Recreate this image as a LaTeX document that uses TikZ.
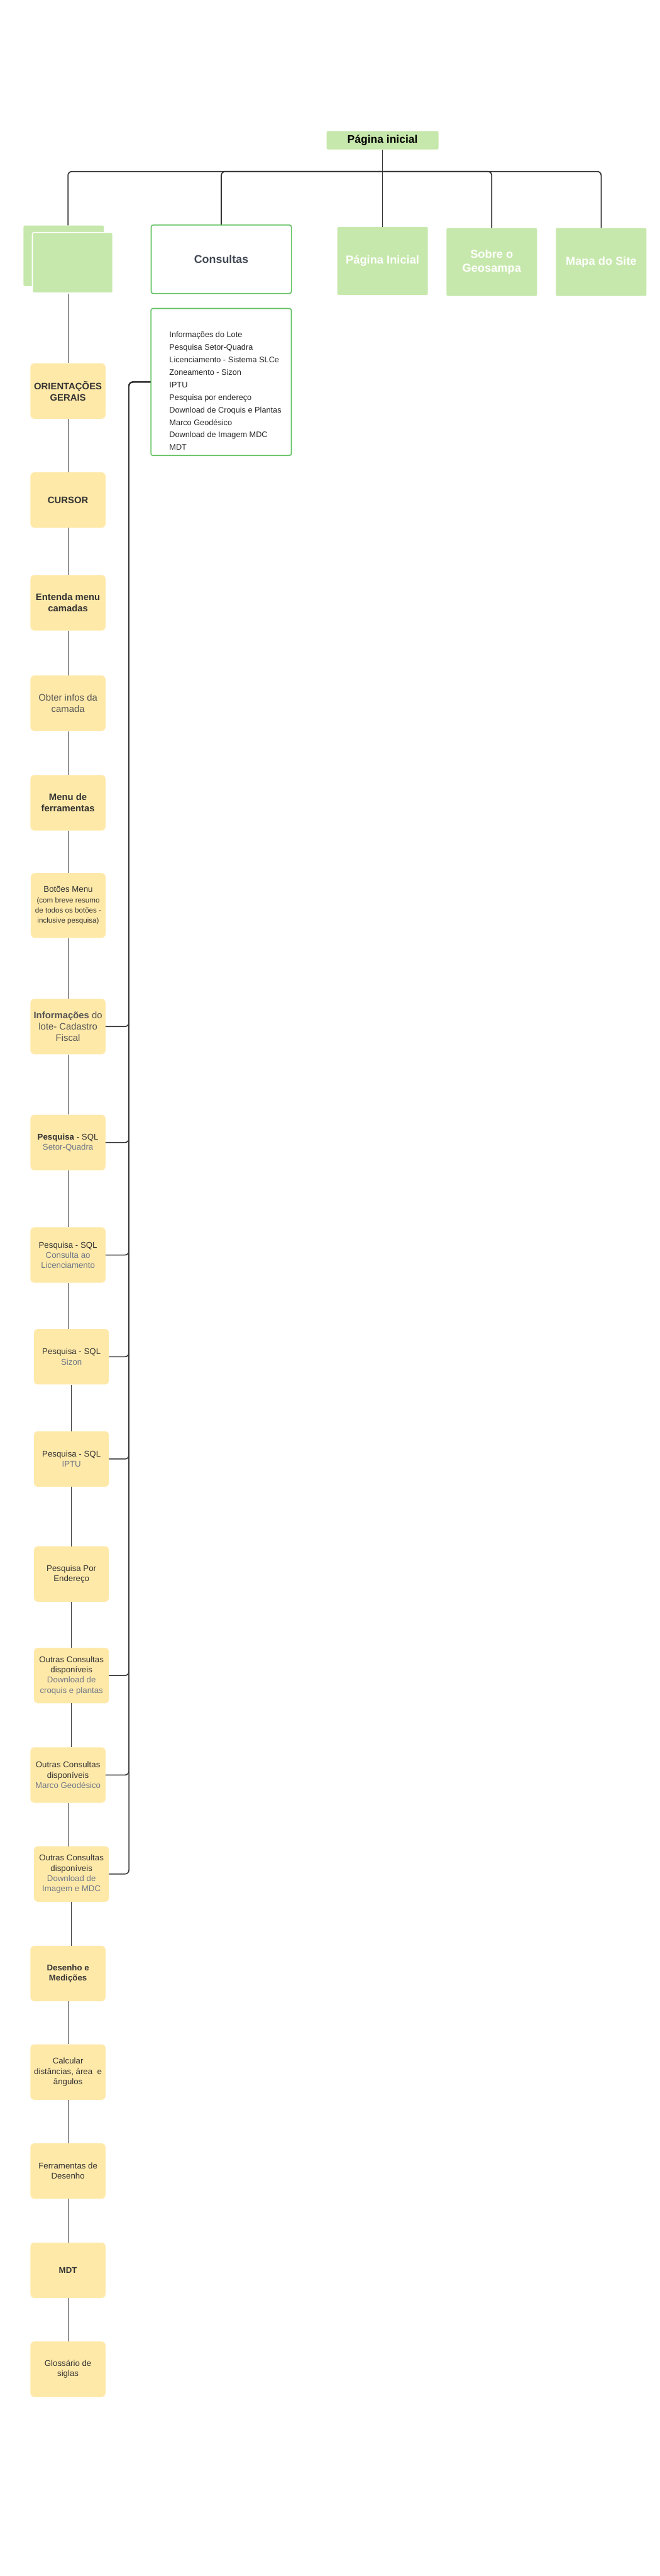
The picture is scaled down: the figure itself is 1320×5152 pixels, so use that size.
\documentclass[tikz,border=0pt]{standalone}
\usepackage{fontspec}
\setmainfont{Liberation Sans}
\definecolor{verdeclaro}{HTML}{C7E8AC}
\definecolor{verdeborda}{HTML}{5EC15E}
\definecolor{amareloclaro}{HTML}{FFE9A9}
\definecolor{linha}{HTML}{333333}
\definecolor{texto}{HTML}{333333}
\definecolor{cinza}{HTML}{555555}
\definecolor{cinzaazul}{HTML}{6F7888}
\definecolor{ardosia}{HTML}{3F4752}
\newcommand{\detalhe}[1]{\textcolor{cinzaazul}{#1}}
\newcommand{\miudo}[1]{{\fontsize{14.6}{18}\selectfont #1}}

\begin{document}
\begin{tikzpicture}[
        x=1pt, y=-1pt,
        raiz/.style={fill=verdeclaro, rounded corners=3pt, minimum width=224pt, minimum height=37pt, font=\bfseries\fontsize{22}{26}\selectfont},
        secao/.style={fill=verdeclaro, rounded corners=3pt, minimum width=181pt, minimum height=136pt, align=center, text=white, font=\bfseries\fontsize{23}{27}\selectfont},
        pilha/.style={fill=verdeclaro, rounded corners=3pt, minimum width=161pt, minimum height=121pt},
        caixa/.style={draw=verdeborda, line width=2pt, fill=white, rounded corners=4pt, minimum width=280.5pt, minimum height=137pt, text=ardosia, font=\bfseries\fontsize{22.5}{27}\selectfont},
        lista/.style={draw=verdeborda, line width=2pt, fill=white, rounded corners=4pt, minimum width=281pt, minimum height=294pt},
        itens/.style={align=left, inner sep=0pt, text=black!85, font=\fontsize{16}{25}\selectfont},
        passo/.style={fill=amareloclaro, rounded corners=7pt, minimum width=150pt, minimum height=111pt, inner sep=2pt, align=center, text=texto, font=\fontsize{16.7}{20.5}\selectfont},
        titulo/.style={font=\bfseries\fontsize{18.7}{22.5}\selectfont},
        grande/.style={font=\fontsize{18.7}{22.5}\selectfont},
        negrito/.style={font=\bfseries\fontsize{16.7}{20.5}\selectfont},
        ramo/.style={draw=linha, line width=2.2pt, rounded corners=8pt},
        liga/.style={draw=linha, line width=1.5pt},
        barramento/.style={draw=linha, line width=2pt, rounded corners=8pt}
    ]
        \path[use as bounding box, fill=white] (0,0) rectangle (1320,5152);

        \node (topo) at (765.5,280.5) [raiz] {Página inicial};

        \node (guiafundo) at (127.4,511.5) [pilha] {};
        \node (guia) at (145.3,525.5) [pilha, draw=white, line width=2pt] {};
        \node (consultas) at (442.8,518.5) [caixa] {Consultas};
        \node (inicial) at (765.5,522) [secao] {Página Inicial};
        \node (sobre) at (984,524) [secao] {Sobre o\\Geosampa};
        \node (mapa) at (1203,524) [secao] {Mapa do Site};

        \node (lista) at (442.5,764) [lista] {};
        \node (itens) at (451,782) [itens] {Informações do Lote\\Pesquisa Setor-Quadra\\Licenciamento - Sistema SLCe\\Zoneamento - Sizon\\IPTU\\Pesquisa por endereço\\Download de Croquis e Plantas\\Marco Geodésico\\Download de Imagem MDC\\MDT};

        \node (orient) at (136,782) [passo, titulo] {ORIENTAÇÕES\\GERAIS};
        \node (cursor) at (136,1000) [passo, titulo] {CURSOR};
        \node (camadas) at (136,1205.5) [passo, titulo] {Entenda menu\\camadas};
        \node (infos) at (136,1406.5) [passo, grande, text=cinza] {Obter infos da\\camada};
        \node (ferramentas) at (136,1605.5) [passo, titulo] {Menu de\\ferramentas};
        \node (botoes) at (136.5,1811) [passo, minimum height=130pt, rounded corners=9pt] {Botões Menu\\\miudo{(com breve resumo}\\\miudo{de todos os botões -}\\\miudo{inclusive pesquisa)}};
        \node (lote) at (136,2053) [passo, grande, text=cinza] {\textbf{Informações} do\\lote- Cadastro\\Fiscal};
        \node (setor) at (136,2285) [passo] {\textbf{Pesquisa} - SQL\\\detalhe{Setor-Quadra}};
        \node (licenc) at (136,2510) [passo] {Pesquisa - SQL\\\detalhe{Consulta ao}\\\detalhe{Licenciamento}};
        \node (sizon) at (143,2713.5) [passo] {Pesquisa - SQL\\\detalhe{Sizon}};
        \node (iptu) at (143,2918) [passo] {Pesquisa - SQL\\\detalhe{IPTU}};
        \node (endereco) at (143,3148) [passo] {Pesquisa Por\\Endereço};
        \node (croquis) at (143,3351) [passo] {Outras Consultas\\disponíveis\\\detalhe{Download de}\\\detalhe{croquis e plantas}};
        \node (marco) at (136,3550) [passo] {Outras Consultas\\disponíveis\\\detalhe{Marco Geodésico}};
        \node (imagem) at (143,3748) [passo] {Outras Consultas\\disponíveis\\\detalhe{Download de}\\\detalhe{Imagem e MDC}};
        \node (desenho) at (136,3947) [passo, negrito] {Desenho e\\Medições};
        \node (calcular) at (136,4144) [passo] {Calcular\\distâncias, área\ \ e\\ângulos};
        \node (ferrdesenho) at (136,4342) [passo] {Ferramentas de\\Desenho};
        \node (mdt) at (136,4540.5) [passo, negrito] {MDT};
        \node (glossario) at (136,4738.5) [passo] {Glossário de\\siglas};

        \coordinate (barra) at (765.5,343);
        \draw[ramo] (topo.south) -- (barra);
        \draw[ramo] (barra) -| (guiafundo.north -| orient.north);
        \foreach \n in {consultas,sobre,mapa}
            \draw[ramo] (barra) -| (\n.north);
        \draw[ramo] (barra) -- (inicial.north);

        \draw[liga] (orient.north |- guia.south) -- (orient.north);
        \foreach \a/\b in {orient/cursor, cursor/camadas, camadas/infos, infos/ferramentas, ferramentas/botoes, botoes/lote, lote/setor, setor/licenc, licenc/sizon, sizon/iptu, iptu/endereco, endereco/croquis, croquis/marco, marco/imagem, imagem/desenho, desenho/calcular, calcular/ferrdesenho, ferrdesenho/mdt, mdt/glossario}
            \draw[liga] (\a.south) -- (\a.south |- \b.north);

        \coordinate (onibus) at (258,764);
        \foreach \n in {lote,setor,licenc,sizon,iptu,croquis,marco,imagem}
            \draw[barramento] (lista.west) -- (onibus) |- (\n.east);
    \end{tikzpicture}
\end{document}
